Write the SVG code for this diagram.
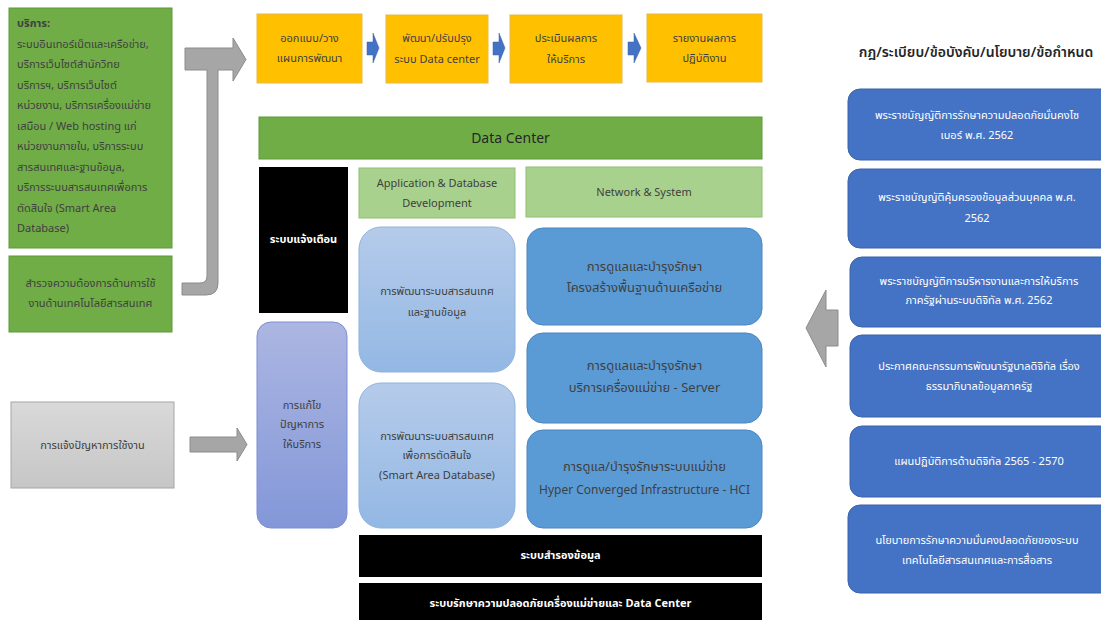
<svg xmlns="http://www.w3.org/2000/svg" width="1101" height="620" viewBox="0 0 1101 620">
<defs>
<linearGradient id="gLB" x1="0" y1="0" x2="0" y2="1"><stop offset="0" stop-color="#b5cbea"/><stop offset="1" stop-color="#93b8e4"/></linearGradient>
<linearGradient id="gPu" x1="0" y1="0" x2="0" y2="1"><stop offset="0" stop-color="#acb6e2"/><stop offset="1" stop-color="#8397d8"/></linearGradient>
<linearGradient id="gGr" x1="0" y1="0" x2="0" y2="1"><stop offset="0" stop-color="#d9d9d9"/><stop offset="1" stop-color="#c6c6c6"/></linearGradient>
<style>
text{font-family:"Noto Sans Thai","Noto Sans","DejaVu Sans","Liberation Sans",sans-serif;font-size:11px;fill:#404040}
.c{text-anchor:middle}
.w{fill:#ffffff}
.green{fill:#70ad47;stroke:#5b9a36;stroke-width:1}
.lgreen{fill:#a9d18e;stroke:#8fbf70;stroke-width:1}
.orange{fill:#ffc000;stroke:#e8b84a;stroke-width:1}
.blk{fill:#000000}
.rblue{fill:#4472c4;stroke:#3b63ab;stroke-width:1}
.mblue{fill:#5b9bd5;stroke:#4a86bf;stroke-width:1}
.lblue{fill:url(#gLB);stroke:#8fb2de;stroke-width:1}
.purp{fill:url(#gPu);stroke:#7d8fd2;stroke-width:1}
.gbox{fill:url(#gGr);stroke:#a6a6a6;stroke-width:1}
.garrow{fill:#a6a6a6;stroke:#8c8c8c;stroke-width:1}
.barrow{fill:#4472c4;stroke:#3b63ab;stroke-width:0.5}
</style>
</defs>

<g id="services">
<rect class="green" x="9" y="8" width="163" height="240"/>
<text x="17" y="27" style="font-weight:bold">บริการ:</text>
<text x="17" y="47.5">ระบบอินเทอร์เน็ตและเครือข่าย,</text>
<text x="17" y="68">บริการเว็บไซต์สำนักวิทย</text>
<text x="17" y="88.5">บริการฯ, บริการเว็บไซต์</text>
<text x="17" y="109">หน่วยงาน, บริการเครื่องแม่ข่าย</text>
<text x="17" y="129.5">เสมือน / Web hosting แก่</text>
<text x="17" y="150">หน่วยงานภายใน, บริการระบบ</text>
<text x="17" y="170.5">สารสนเทศและฐานข้อมูล,</text>
<text x="17" y="191">บริการระบบสารสนเทศเพื่อการ</text>
<text x="17" y="211.5">ตัดสินใจ (Smart Area</text>
<text x="17" y="232">Database)</text>
</g>

<g id="survey">
<rect class="green" x="9" y="256" width="163" height="76"/>
<text class="c" x="90.5" y="287">สำรวจความต้องการด้านการใช้</text>
<text class="c" x="90.5" y="307">งานด้านเทคโนโลยีสารสนเทศ</text>
</g>

<g id="report-problem">
<rect class="gbox" x="11" y="402" width="163" height="86"/>
<text class="c" x="92.5" y="449">การแจ้งปัญหาการใช้งาน</text>
</g>

<g id="step1">
<rect class="orange" x="257" y="14" width="105" height="69"/>
<text class="c" x="309.5" y="42">ออกแบบ/วาง</text>
<text class="c" x="309.5" y="62">แผนการพัฒนา</text>
</g>
<g id="step2">
<rect class="orange" x="386" y="15" width="102" height="68"/>
<text class="c" x="437" y="42">พัฒนา/ปรับปรุง</text>
<text class="c" x="437" y="63">ระบบ Data center</text>
</g>
<g id="step3">
<rect class="orange" x="510" y="15" width="112" height="68"/>
<text class="c" x="566" y="42">ประเมินผลการ</text>
<text class="c" x="566" y="63">ให้บริการ</text>
</g>
<g id="step4">
<rect class="orange" x="647" y="14" width="115" height="68"/>
<text class="c" x="704.5" y="42">รายงานผลการ</text>
<text class="c" x="704.5" y="62">ปฏิบัติงาน</text>
</g>

<g id="datacenter">
<rect class="green" x="259" y="117" width="503" height="42"/>
<text class="c" x="510.5" y="143" style="font-size:14px;fill:#262626">Data Center</text>
</g>

<g id="alert">
<rect class="blk" x="259" y="167" width="89" height="146"/>
<text class="c w" x="303.5" y="243" style="font-weight:bold">ระบบแจ้งเตือน</text>
</g>

<g id="app-db">
<rect class="lgreen" x="359" y="168" width="156" height="50"/>
<text class="c" x="437" y="187">Application &amp; Database</text>
<text class="c" x="437" y="207">Development</text>
</g>

<g id="net-sys">
<rect class="lgreen" x="526" y="167" width="236" height="50"/>
<text class="c" x="644" y="196">Network &amp; System</text>
</g>

<g id="dev-is">
<rect class="lblue" x="359" y="227" width="156" height="145" rx="22"/>
<text class="c" x="437" y="295">การพัฒนาระบบสารสนเทศ</text>
<text class="c" x="437" y="316">และฐานข้อมูล</text>
</g>

<g id="dev-sad">
<rect class="lblue" x="359" y="383" width="156" height="145" rx="22"/>
<text class="c" x="437" y="440">การพัฒนาระบบสารสนเทศ</text>
<text class="c" x="437" y="459">เพื่อการตัดสินใจ</text>
<text class="c" x="437" y="479">(Smart Area Database)</text>
</g>

<g id="fix">
<rect class="purp" x="257" y="322" width="90" height="206" rx="14"/>
<text class="c" x="302" y="409">การแก้ไข</text>
<text class="c" x="302" y="428">ปัญหาการ</text>
<text class="c" x="302" y="448">ให้บริการ</text>
</g>

<g id="net-infra">
<rect class="mblue" x="527" y="228" width="235" height="97" rx="16"/>
<text class="c" x="644.5" y="271" style="font-size:13px">การดูแลและบำรุงรักษา</text>
<text class="c" x="644.5" y="292" style="font-size:13px">โครงสร้างพื้นฐานด้านเครือข่าย</text>
</g>

<g id="server">
<rect class="mblue" x="527" y="333" width="235" height="90" rx="16"/>
<text class="c" x="644.5" y="370" style="font-size:13px">การดูแลและบำรุงรักษา</text>
<text class="c" x="644.5" y="392" style="font-size:13px">บริการเครื่องแม่ข่าย - Server</text>
</g>

<g id="hci">
<rect class="mblue" x="527" y="430" width="235" height="98" rx="16"/>
<text class="c" x="644.5" y="471" style="font-size:13px">การดูแล/บำรุงรักษาระบบแม่ข่าย</text>
<text class="c" x="644.5" y="494" style="font-size:12px">Hyper Converged Infrastructure - HCI</text>
</g>

<g id="backup">
<rect class="blk" x="359" y="535" width="403" height="42"/>
<text class="c w" x="560.5" y="559" style="font-weight:bold">ระบบสำรองข้อมูล</text>
</g>

<g id="security">
<rect class="blk" x="359" y="583" width="403" height="40"/>
<text class="c w" x="560.5" y="607" style="font-weight:bold">ระบบรักษาความปลอดภัยเครื่องแม่ข่ายและ Data Center</text>
</g>

<g id="regs-title">
<text class="c" x="976" y="57" style="font-size:14px;font-weight:600;fill:#262626">กฎ/ระเบียบ/ข้อบังคับ/นโยบาย/ข้อกำหนด</text>
</g>

<g id="reg1">
<rect class="rblue" x="848" y="89" width="265" height="71" rx="12"/>
<text class="c w" x="977" y="119">พระราชบัญญัติการรักษาความปลอดภัยมั่นคงไซ</text>
<text class="c w" x="977" y="139">เบอร์ พ.ศ. 2562</text>
</g>
<g id="reg2">
<rect class="rblue" x="848" y="169" width="265" height="79" rx="12"/>
<text class="c w" x="977" y="201">พระราชบัญญัติคุ้มครองข้อมูลส่วนบุคคล พ.ศ.</text>
<text class="c w" x="977" y="222">2562</text>
</g>
<g id="reg3">
<rect class="rblue" x="850" y="257" width="263" height="70" rx="12"/>
<text class="c w" x="979" y="285">พระราชบัญญัติการบริหารงานและการให้บริการ</text>
<text class="c w" x="979" y="304">ภาครัฐผ่านระบบดิจิทัล พ.ศ. 2562</text>
</g>
<g id="reg4">
<rect class="rblue" x="850" y="335" width="263" height="82" rx="12"/>
<text class="c w" x="979" y="370">ประกาศคณะกรรมการพัฒนารัฐบาลดิจิทัล เรื่อง</text>
<text class="c w" x="979" y="390">ธรรมาภิบาลข้อมูลภาครัฐ</text>
</g>
<g id="reg5">
<rect class="rblue" x="850" y="426" width="263" height="71" rx="12"/>
<text class="c w" x="979" y="465">แผนปฏิบัติการด้านดิจิทัล 2565 - 2570</text>
</g>
<g id="reg6">
<rect class="rblue" x="848" y="505" width="265" height="88" rx="12"/>
<text class="c w" x="977" y="544">นโยบายการรักษาความมั่นคงปลอดภัยของระบบ</text>
<text class="c w" x="977" y="564">เทคโนโลยีสารสนเทศและการสื่อสาร</text>
</g>

<g id="connectors">
<path class="garrow" d="M182 283 L200 283 Q207 283 207 276 L207 70 L185 70 L185 48 L233 48 L233 38 L246 59.5 L233 81 L233 70 L218 70 L218 283 Q218 295 206 295 L182 295 Z"/>
<path class="garrow" d="M190 437 L237 437 L237 428 L247 444.5 L237 461 L237 452 L190 452 Z"/>
<path class="garrow" d="M806 328 L826 290 L826 310 L838 310 L838 346 L826 346 L826 367 Z"/>
<path class="barrow" d="M367 42 L373 42 L373 33 L379 48 L373 63 L373 55 L367 55 Z"/>
<path class="barrow" d="M493 42 L499 42 L499 33 L505 48 L499 63 L499 55 L493 55 Z"/>
<path class="barrow" d="M628 42 L634 42 L634 33 L641 48 L634 63 L634 55 L628 55 Z"/>
</g>
</svg>
